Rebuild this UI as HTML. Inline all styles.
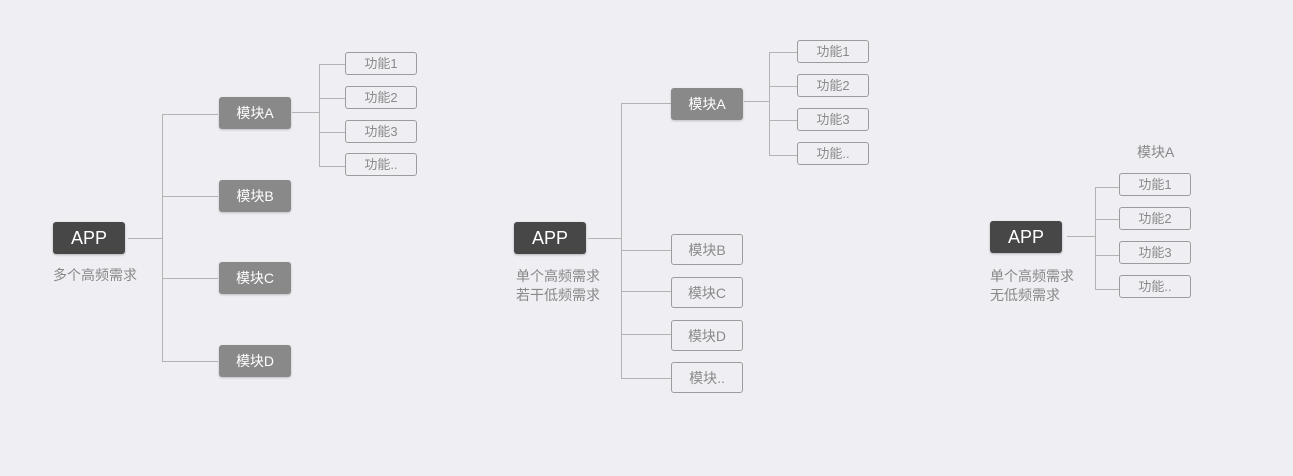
<!DOCTYPE html>
<html><head><meta charset="utf-8">
<style>
html,body{margin:0;padding:0;}
body{width:1293px;height:476px;background:#efeef3;position:relative;overflow:hidden;font-family:"Liberation Sans","Noto Sans CJK SC",sans-serif;}
.a{position:absolute;box-sizing:border-box;}
.app{background:#474747;color:#fff;font-size:18px;width:72px;height:32px;line-height:32px;text-align:center;border-radius:3px;box-shadow:0 1px 2px rgba(0,0,0,.25);}
.mf{background:#898989;color:#fff;font-size:14px;width:72px;height:32px;line-height:33px;text-align:center;border-radius:3px;box-shadow:0 1px 2px rgba(0,0,0,.2);}
.mo{border:1px solid #9c9c9c;color:#8a8a8a;font-size:14px;width:72px;height:31px;line-height:30px;text-align:center;border-radius:3px;}
.f{border:1px solid #9c9c9c;color:#8a8a8a;font-size:13px;width:72px;height:23px;line-height:22px;text-align:center;border-radius:3px;}
.h{height:1px;background:#b3b3b3;}
.v{width:1px;background:#b3b3b3;}
.cap{color:#888;font-size:14px;line-height:19px;white-space:nowrap;}
</style></head><body>

<!-- Diagram 1 -->
<div class="a app" style="left:53px;top:222px;">APP</div>
<div class="a cap" style="left:53px;top:266px;">多个高频需求</div>
<div class="a h" style="left:128px;top:238px;width:34px;"></div>
<div class="a v" style="left:162px;top:114px;height:247px;"></div>
<div class="a h" style="left:162px;top:114px;width:56px;"></div>
<div class="a h" style="left:162px;top:196px;width:56px;"></div>
<div class="a h" style="left:162px;top:278px;width:56px;"></div>
<div class="a h" style="left:162px;top:361px;width:56px;"></div>
<div class="a mf" style="left:219px;top:97px;">模块A</div>
<div class="a mf" style="left:219px;top:180px;">模块B</div>
<div class="a mf" style="left:219px;top:262px;">模块C</div>
<div class="a mf" style="left:219px;top:345px;">模块D</div>
<div class="a h" style="left:292px;top:112px;width:27px;"></div>
<div class="a v" style="left:319px;top:64px;height:103px;"></div>
<div class="a h" style="left:319px;top:64px;width:26px;"></div>
<div class="a h" style="left:319px;top:98px;width:26px;"></div>
<div class="a h" style="left:319px;top:132px;width:26px;"></div>
<div class="a h" style="left:319px;top:166px;width:26px;"></div>
<div class="a f" style="left:345px;top:52px;">功能1</div>
<div class="a f" style="left:345px;top:86px;">功能2</div>
<div class="a f" style="left:345px;top:120px;">功能3</div>
<div class="a f" style="left:345px;top:153px;">功能..</div>

<!-- Diagram 2 -->
<div class="a app" style="left:514px;top:222px;">APP</div>
<div class="a cap" style="left:516px;top:267px;">单个高频需求<br>若干低频需求</div>
<div class="a h" style="left:588px;top:238px;width:33px;"></div>
<div class="a v" style="left:621px;top:103px;height:275px;"></div>
<div class="a h" style="left:621px;top:103px;width:50px;"></div>
<div class="a h" style="left:621px;top:250px;width:50px;"></div>
<div class="a h" style="left:621px;top:291px;width:50px;"></div>
<div class="a h" style="left:621px;top:334px;width:50px;"></div>
<div class="a h" style="left:621px;top:378px;width:50px;"></div>
<div class="a mf" style="left:671px;top:88px;">模块A</div>
<div class="a mo" style="left:671px;top:234px;">模块B</div>
<div class="a mo" style="left:671px;top:277px;">模块C</div>
<div class="a mo" style="left:671px;top:320px;">模块D</div>
<div class="a mo" style="left:671px;top:362px;">模块..</div>
<div class="a h" style="left:744px;top:101px;width:25px;"></div>
<div class="a v" style="left:769px;top:52px;height:103px;"></div>
<div class="a h" style="left:769px;top:52px;width:28px;"></div>
<div class="a h" style="left:769px;top:86px;width:28px;"></div>
<div class="a h" style="left:769px;top:120px;width:28px;"></div>
<div class="a h" style="left:769px;top:155px;width:28px;"></div>
<div class="a f" style="left:797px;top:40px;">功能1</div>
<div class="a f" style="left:797px;top:74px;">功能2</div>
<div class="a f" style="left:797px;top:108px;">功能3</div>
<div class="a f" style="left:797px;top:142px;">功能..</div>

<!-- Diagram 3 -->
<div class="a app" style="left:990px;top:221px;">APP</div>
<div class="a cap" style="left:990px;top:267px;">单个高频需求<br>无低频需求</div>
<div class="a h" style="left:1067px;top:236px;width:28px;"></div>
<div class="a v" style="left:1095px;top:187px;height:102px;"></div>
<div class="a h" style="left:1095px;top:187px;width:24px;"></div>
<div class="a h" style="left:1095px;top:219px;width:24px;"></div>
<div class="a h" style="left:1095px;top:255px;width:24px;"></div>
<div class="a h" style="left:1095px;top:289px;width:24px;"></div>
<div class="a cap" style="left:1137px;top:143px;">模块A</div>
<div class="a f" style="left:1119px;top:173px;">功能1</div>
<div class="a f" style="left:1119px;top:207px;">功能2</div>
<div class="a f" style="left:1119px;top:241px;">功能3</div>
<div class="a f" style="left:1119px;top:275px;">功能..</div>

</body></html>
